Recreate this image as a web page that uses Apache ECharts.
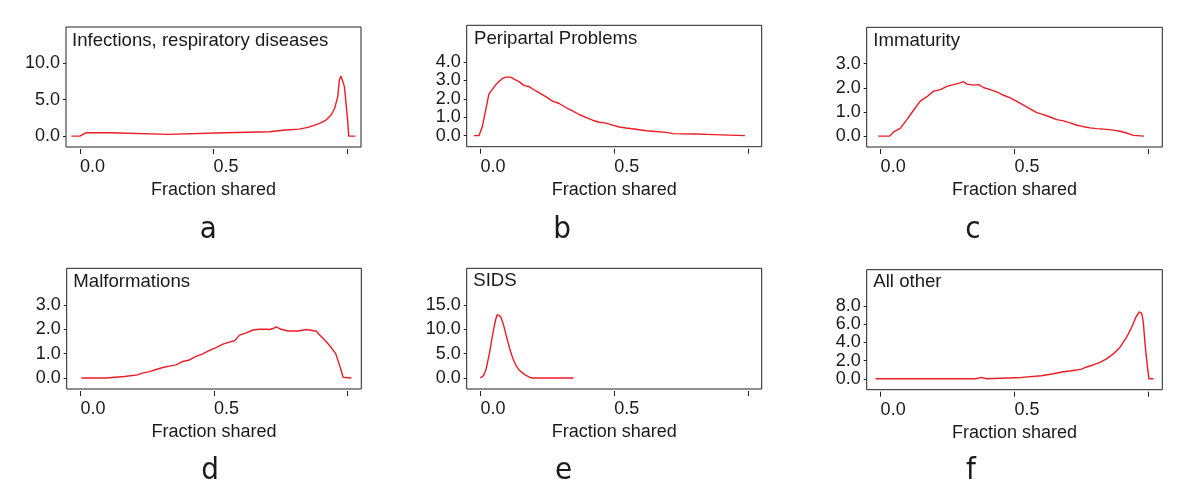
<!DOCTYPE html>
<html><head><meta charset="utf-8">
<script src="https://cdn.jsdelivr.net/npm/echarts@6/dist/echarts.min.js"></script>
<style>html,body{margin:0;padding:0;background:#fff}#c{width:1200px;height:494px}</style>
</head><body><div id="c"></div>
<script>
// ---- data ----
const panelTitles = ['Infections, respiratory diseases', 'Peripartal Problems', 'Immaturity', 'Malformations', 'SIDS', 'All other'];
const panelLetters = ['a', 'b', 'c', 'd', 'e', 'f'];
const xAxisName = 'Fraction shared';
const xTickValues = [0, 0.5, 1.0];
const xLabelValues = [0, 0.5];

const yTicksA = [0, 5, 10];
const yTicksB = [0, 1, 2, 3, 4];
const yTicksC = [0, 1, 2, 3];
const yTicksD = [0, 1, 2, 3];
const yTicksE = [0, 5, 10, 15];
const yTicksF = [0, 2, 4, 6, 8];

const infX = [-0.032, 0.0, 0.003, 0.024, 0.117, 0.12, 0.329, 0.333, 0.541, 0.545, 0.709, 0.713, 0.77, 0.775, 0.82, 0.825, 0.853, 0.871, 0.897, 0.921, 0.94, 0.953, 0.965, 0.971, 0.977, 0.984, 0.99, 1.002, 1.006, 1.031];
const infY = [0, 0, 0.05, 0.46, 0.46, 0.23, 0.23, 0.46, 0.46, 0.6, 0.6, 0.83, 0.83, 0.96, 0.96, 1.2, 1.2, 1.4, 1.75, 2.2, 2.9, 3.8, 5.4, 7.7, 8.25, 8.2, 6.8, 2.2, 0, 0];

const periX = [-0.025, -0.006, 0.006, 0.019, 0.031, 0.044, 0.056, 0.069, 0.081, 0.094, 0.113, 0.125, 0.144, 0.163, 0.181, 0.207, 0.244, 0.269, 0.294, 0.319, 0.344, 0.369, 0.394, 0.419, 0.444, 0.469, 0.494, 0.519, 0.544, 0.582, 0.62, 0.645, 0.695, 0.72, 0.795, 0.801, 0.807, 0.845, 0.851, 0.989];
const periY = [0, 0, 0.47, 1.39, 2.26, 2.52, 2.76, 2.94, 3.1, 3.18, 3.18, 3.07, 2.94, 2.72, 2.67, 2.43, 2.12, 1.88, 1.75, 1.53, 1.35, 1.15, 0.99, 0.84, 0.73, 0.68, 0.57, 0.47, 0.42, 0.35, 0.27, 0.24, 0.18, 0.11, 0.09, 0.02, 0.09, 0.07, 0, 0];

const immX = [-0.009, 0.034, 0.049, 0.073, 0.098, 0.123, 0.148, 0.173, 0.198, 0.223, 0.248, 0.272, 0.297, 0.31, 0.322, 0.347, 0.366, 0.384, 0.409, 0.434, 0.459, 0.484, 0.509, 0.534, 0.558, 0.583, 0.608, 0.633, 0.658, 0.683, 0.708, 0.733, 0.758, 0.782, 0.807, 0.845, 0.869, 0.894, 0.919, 0.944, 0.95, 0.984];
const immY = [0, 0, 0.18, 0.32, 0.68, 1.07, 1.45, 1.63, 1.86, 1.92, 2.06, 2.13, 2.2, 2.25, 2.15, 2.11, 2.13, 2.01, 1.92, 1.83, 1.69, 1.58, 1.44, 1.28, 1.13, 0.97, 0.89, 0.79, 0.68, 0.63, 0.55, 0.45, 0.39, 0.34, 0.31, 0.28, 0.25, 0.2, 0.13, 0.03, 0, 0];

const malX = [0.003, 0.095, 0.101, 0.164, 0.17, 0.214, 0.227, 0.258, 0.283, 0.308, 0.333, 0.358, 0.383, 0.408, 0.433, 0.458, 0.483, 0.508, 0.533, 0.558, 0.577, 0.596, 0.621, 0.646, 0.671, 0.696, 0.702, 0.708, 0.721, 0.733, 0.752, 0.777, 0.815, 0.821, 0.846, 0.852, 0.884, 0.896, 0.921, 0.94, 0.956, 0.971, 0.984, 0.987, 1.015];
const malY = [0, 0, 0.06, 0.06, 0.13, 0.13, 0.19, 0.26, 0.35, 0.43, 0.49, 0.54, 0.68, 0.74, 0.89, 0.99, 1.13, 1.25, 1.39, 1.47, 1.53, 1.76, 1.85, 1.97, 2.0, 2.0, 2.06, 1.99, 2.03, 2.1, 2.0, 1.93, 1.93, 1.99, 1.99, 1.93, 1.92, 1.76, 1.49, 1.24, 1.0, 0.51, 0.03, 0, 0];

const sidsX = [-0.001, 0.011, 0.021, 0.034, 0.046, 0.056, 0.062, 0.069, 0.075, 0.084, 0.096, 0.109, 0.121, 0.134, 0.146, 0.165, 0.184, 0.194, 0.348];
const sidsY = [0, 0.49, 1.9, 5.3, 9.2, 11.9, 13.0, 12.6, 12.6, 11.25, 8.7, 6.0, 3.96, 2.43, 1.53, 0.69, 0.14, 0, 0];

const othX = [-0.019, 0.355, 0.358, 0.377, 0.38, 0.395, 0.399, 0.526, 0.532, 0.601, 0.607, 0.645, 0.682, 0.707, 0.732, 0.751, 0.769, 0.794, 0.819, 0.844, 0.869, 0.894, 0.919, 0.938, 0.954, 0.966, 0.975, 0.981, 0.988, 0.996, 1.002, 1.019];
const othY = [0, 0, 0.15, 0.15, 0, 0, 0.15, 0.15, 0.33, 0.33, 0.48, 0.56, 0.78, 0.85, 0.96, 1.07, 1.3, 1.52, 1.81, 2.19, 2.74, 3.48, 4.59, 5.7, 6.81, 7.37, 7.19, 6.26, 3.67, 1.44, 0, 0];

// ---- build ----
const seriesX = [infX, periX, immX, malX, sidsX, othX];
const seriesY = [infY, periY, immY, malY, sidsY, othY];
const yTicks = [yTicksA, yTicksB, yTicksC, yTicksD, yTicksE, yTicksF];
const yMax = [15, 6, 4.5, 4.5, 22.5, 12];

const grids = [
  {left: 66, top: 27, width: 295, height: 120},
  {left: 466.7, top: 25.3, width: 295, height: 121.4},
  {left: 866.7, top: 27.3, width: 295.6, height: 119.7},
  {left: 66.7, top: 268.3, width: 294.6, height: 120.7},
  {left: 466.7, top: 268.3, width: 295, height: 120.7},
  {left: 866.7, top: 269.7, width: 295.6, height: 120}
];
const titlePos = [[72, 41], [474, 39.5], [873.3, 41], [73.3, 282], [473.3, 281.5], [873.3, 282.5]];
const letterPos = [[208.3, 230], [562, 230], [973, 230], [210, 471], [563.7, 471], [971, 471]];

const FONT = '"Liberation Sans", Arial, sans-serif';
const TXT = '#1a1a1a';
const LINE = '#222';

const option = {
  animation: false,
  backgroundColor: '#fff',
  grid: grids.map(g => Object.assign({show: true, borderColor: LINE, borderWidth: 1, containLabel: false}, g)),
  xAxis: grids.map((g, i) => ({
    type: 'value', gridIndex: i, min: -0.052, max: 1.052, offset: 2, position: 'bottom',
    name: xAxisName, nameLocation: 'middle', nameGap: 32,
    nameTextStyle: {fontFamily: FONT, fontSize: 18, color: TXT},
    axisLine: {show: false, onZero: false},
    axisTick: {show: true, length: 5, inside: false, customValues: xTickValues, lineStyle: {color: LINE, width: 1}},
    axisLabel: {show: true, customValues: xLabelValues, margin: 9, fontFamily: FONT, fontSize: 18, color: TXT,
      align: 'left', formatter: v => v.toFixed(1)},
    splitLine: {show: false}
  })),
  yAxis: grids.map((g, i) => ({
    type: 'value', gridIndex: i, min: -yMax[i] / 10, max: yMax[i], position: 'left',
    axisLine: {show: false, onZero: false},
    axisTick: {show: true, length: 3, inside: false, customValues: yTicks[i], lineStyle: {color: LINE, width: 1}},
    axisLabel: {show: true, customValues: yTicks[i], margin: 6, fontFamily: FONT, fontSize: 18, color: TXT,
      formatter: v => v.toFixed(1)},
    splitLine: {show: false}
  })),
  series: seriesX.map((xs, i) => ({
    type: 'line', xAxisIndex: i, yAxisIndex: i, showSymbol: false, symbol: 'none',
    lineStyle: {color: '#ec1c24', width: 1.4},
    data: xs.map((x, k) => [x, seriesY[i][k]])
  })),
  graphic: [
    ...panelTitles.map((t, i) => ({
      type: 'text', left: titlePos[i][0], top: titlePos[i][1] - 10, z: 100,
      style: {text: t, font: '18.6px ' + FONT, fill: TXT}
    })),
    ...panelLetters.map((t, i) => ({
      type: 'text', x: letterPos[i][0], y: letterPos[i][1], z: 100,
      style: {text: t, font: '31px "DejaVu Sans Condensed", "DejaVu Sans", sans-serif', fill: TXT, textAlign: 'center', textVerticalAlign: 'middle'}
    }))
  ]
};
const chart = echarts.init(document.getElementById('c'), null, {renderer: 'canvas'});
chart.setOption(option);
</script></body></html>
